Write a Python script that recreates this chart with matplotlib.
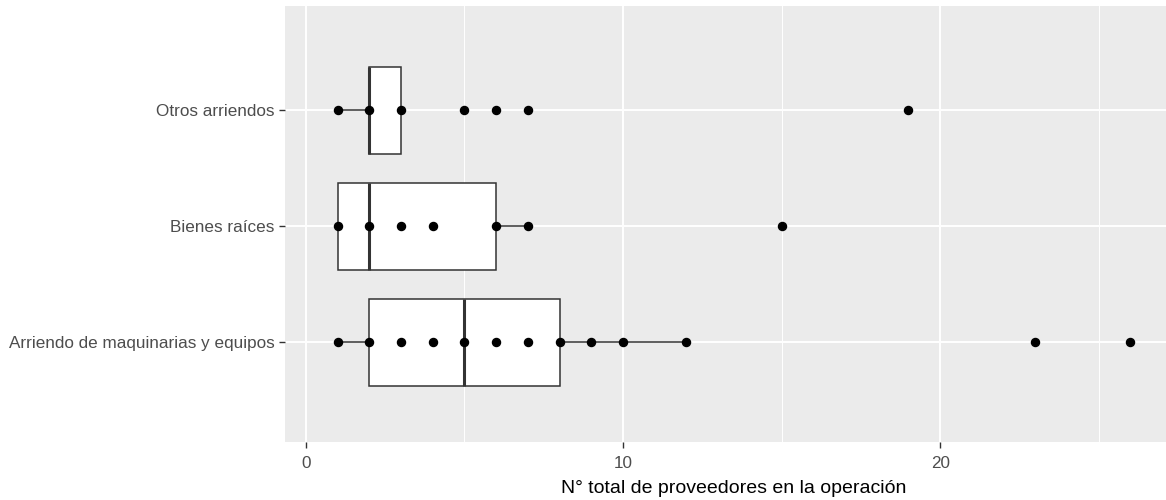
import matplotlib.pyplot as plt

categories = ['Arriendo de maquinarias y equipos', 'Bienes raíces', 'Otros arriendos']
q1 = [2, 1, 2]
med = [5, 2, 2]
q3 = [8, 6, 3]
whis_lo = [1, 1, 1]
whis_hi = [12, 7, 3]
points = [
    [1, 2, 3, 4, 5, 6, 7, 8, 9, 10, 12, 23, 26],
    [1, 2, 3, 4, 6, 7, 15],
    [1, 2, 3, 5, 6, 7, 19],
]
xticks = [0, 10, 20]

plt.rcParams['font.family'] = ['Liberation Sans', 'DejaVu Sans']

fig = plt.figure(figsize=(11.66, 5), dpi=100)
ax = fig.add_axes([285/1166, 1-442/500, (1166-285)/1166, (442-6)/500])
ax.set_facecolor('#EBEBEB')

stats = []
for i in range(len(categories)):
    stats.append({'q1': q1[i], 'med': med[i], 'q3': q3[i],
                  'whislo': whis_lo[i], 'whishi': whis_hi[i], 'fliers': []})

pos = [1, 2, 3]
ax.bxp(stats, positions=pos, vert=False, widths=0.75, showcaps=False,
       patch_artist=True, zorder=3,
       boxprops=dict(facecolor='white', edgecolor='#333333', linewidth=1.1),
       medianprops=dict(color='#333333', linewidth=2.2),
       whiskerprops=dict(color='#333333', linewidth=1.1))

for i, vals in enumerate(points):
    ax.plot(vals, [pos[i]] * len(vals), 'o', color='black', markersize=5.8,
            zorder=4, linestyle='none')

ax.set_xlim(-0.66, 27.12)
ax.set_ylim(0.14, 3.9)
ax.set_xticks(xticks)
ax.set_xticks([5, 15, 25], minor=True)
ax.set_yticks(pos)
ax.set_yticklabels(categories)
ax.grid(which='major', color='white', linewidth=1.4, zorder=0)
ax.grid(which='minor', axis='x', color='white', linewidth=0.7, zorder=0)
ax.set_axisbelow(True)
for s in ax.spines.values():
    s.set_visible(False)
ax.tick_params(axis='both', which='major', colors='#333333', labelcolor='#4D4D4D',
               labelsize=12.3, length=4, width=1)
ax.tick_params(axis='x', which='major', pad=6)
ax.tick_params(axis='x', which='minor', length=0)
ax.set_xlabel('N° total de proveedores en la operación', fontsize=14, color='black')
ax.xaxis.set_label_coords(0.509, -0.088)

fig.savefig('out.png', dpi=100)
